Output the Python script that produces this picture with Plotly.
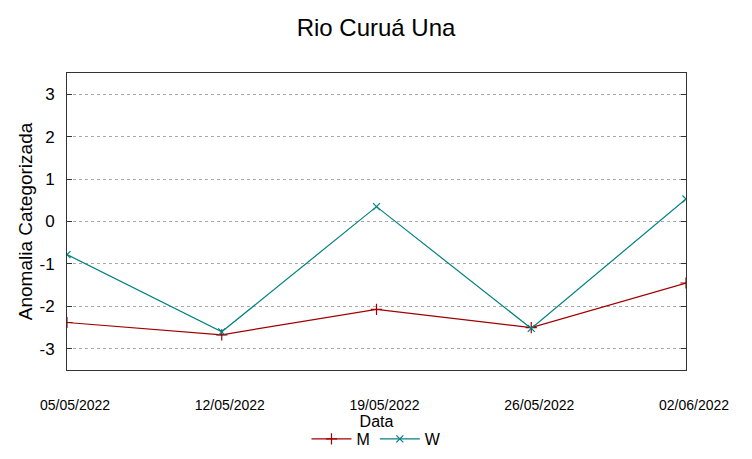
import plotly.graph_objects as go

dates = ["05/05/2022", "12/05/2022", "19/05/2022", "26/05/2022", "02/06/2022"]
m_values = [-2.38, -2.67, -2.07, -2.5, -1.45]
w_values = [-0.78, -2.6, 0.35, -2.52, 0.53]
y_ticks = [-3, -2, -1, 0, 1, 2, 3]
y_tick_labels = ["-3", "-2", "-1", "0", "1", "2", "3"]

NARROW = "Liberation Sans Narrow, Liberation Sans"

fig = go.Figure()
fig.add_trace(go.Scatter(
    x=dates, y=m_values, name="M", mode="lines+markers",
    line=dict(color="#a00000", width=1.2),
    marker=dict(symbol="cross-thin", size=8, line=dict(color="#a00000", width=1.2)),
))
fig.add_trace(go.Scatter(
    x=dates, y=w_values, name="W", mode="lines+markers",
    line=dict(color="#008080", width=1.2),
    marker=dict(symbol="x-thin", size=7, line=dict(color="#008080", width=1.2)),
))

fig.update_layout(
    width=752, height=459,
    margin=dict(l=67, r=66, t=73, b=89, autoexpand=False),
    paper_bgcolor="white", plot_bgcolor="white",
    font=dict(family="Liberation Sans", color="black"),
    title=dict(text="Rio Curuá Una", x=0.5, xanchor="center", y=0.939, yanchor="middle",
               font=dict(size=24, family="Liberation Sans")),
    showlegend=True,
    legend=dict(orientation="h", x=0.5, xanchor="center", y=-0.175, yanchor="top",
                font=dict(size=16, family=NARROW),
                itemwidth=40, bgcolor="rgba(0,0,0,0)"),
)
fig.update_xaxes(
    type="category", range=[0, 4], automargin=False,
    showgrid=False, showline=True, linecolor="#333", linewidth=1, mirror=True,
    ticks="", tickfont=dict(size=14, family=NARROW),
    ticklabelstandoff=22, ticklabelshift=8,
    title=dict(text="Data", font=dict(size=16, family=NARROW), standoff=2),
)
fig.update_yaxes(
    range=[-3.5, 3.5], tickvals=y_ticks, ticktext=y_tick_labels, automargin=False,
    showgrid=True, gridcolor="#aaaaaa", griddash="dot", gridwidth=1,
    zeroline=False,
    showline=True, linecolor="#333", linewidth=1, mirror="ticks",
    ticks="inside", ticklen=5, tickcolor="#333",
    tickfont=dict(size=17, family="Liberation Sans"),
    ticklabelstandoff=8,
    title=dict(text="Anomalia Categorizada", font=dict(size=19, family="Liberation Sans"), standoff=1),
)

fig.write_html("out.html", config={"displayModeBar": False},
               post_script="document.body.style.margin='0';")
